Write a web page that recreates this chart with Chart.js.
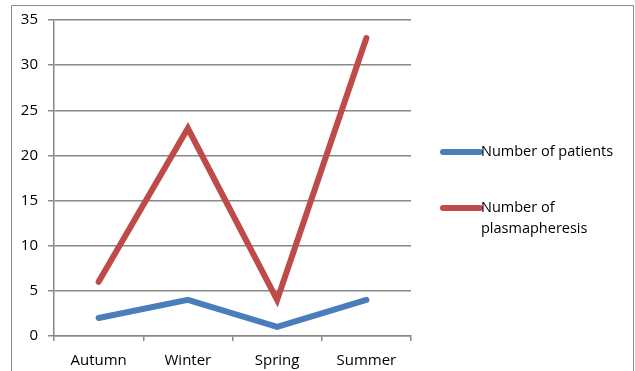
<!DOCTYPE html>
<html>
<head>
<meta charset="utf-8">
<style>
  html, body { margin: 0; padding: 0; background: #fff; }
  #wrap { width: 635px; height: 371px; position: relative; }
</style>
<script src="https://cdn.jsdelivr.net/npm/chart.js@4/dist/chart.umd.min.js"></script>
</head>
<body>
<div id="wrap"><canvas id="c" width="635" height="371"></canvas></div>
<script>
const seasons = ['Autumn', 'Winter', 'Spring', 'Summer'];
const patients = [2, 4, 1, 4];
const plasmapheresis = [6, 23, 4, 33];
const seriesNames = ['Number of patients', 'Number of plasmapheresis'];
const seriesColors = ['#4A7EBB', '#BE4B48'];

const FONT = '"Open Sans", "Liberation Sans", sans-serif';
const GRID = '#888888';

// Frame around the whole figure
const framePlugin = {
  id: 'frame',
  afterDraw(chart) {
    const ctx = chart.ctx;
    ctx.save();
    ctx.strokeStyle = '#8a8a8a';
    ctx.lineWidth = 1;
    ctx.beginPath();
    ctx.moveTo(11.5, 371);
    ctx.lineTo(11.5, 5.5);
    ctx.lineTo(633.5, 5.5);
    ctx.lineTo(633.5, 371);
    ctx.stroke();
    ctx.restore();
  }
};

// Legend on the right, with wrapped labels
const sideLegend = {
  id: 'sideLegend',
  afterDraw(chart) {
    const ctx = chart.ctx;
    const ys = [152, 208];
    const x0 = 443, x1 = 480;
    ctx.save();
    ctx.font = '14.5px ' + FONT;
    ctx.textBaseline = 'middle';
    ctx.textAlign = 'left';
    chart.data.datasets.forEach((ds, i) => {
      const y = ys[i];
      ctx.strokeStyle = ds.borderColor;
      ctx.lineWidth = 6;
      ctx.lineCap = 'round';
      ctx.beginPath();
      ctx.moveTo(x0, y);
      ctx.lineTo(x1, y);
      ctx.stroke();
      ctx.fillStyle = '#000';
      // wrap text to the available width
      const maxW = 145;
      const words = ds.label.split(' ');
      const lines = [];
      let cur = '';
      words.forEach(w => {
        const t = cur ? cur + ' ' + w : w;
        if (ctx.measureText(t).width > maxW && cur) { lines.push(cur); cur = w; }
        else cur = t;
      });
      if (cur) lines.push(cur);
      lines.forEach((ln, k) => ctx.fillText(ln, 481, y + k * 21));
    });
    ctx.restore();
  }
};

new Chart(document.getElementById('c'), {
  type: 'line',
  data: {
    labels: seasons,
    datasets: [
      { label: seriesNames[0], data: patients, borderColor: seriesColors[0], backgroundColor: seriesColors[0] },
      { label: seriesNames[1], data: plasmapheresis, borderColor: seriesColors[1], backgroundColor: seriesColors[1] }
    ]
  },
  options: {
    responsive: false,
    animation: false,
    devicePixelRatio: 1,
    layout: { padding: { left: 12, top: 20, right: 224, bottom: 0 } },
    elements: {
      line: { borderWidth: 6, tension: 0, borderCapStyle: 'round', borderJoinStyle: 'miter' },
      point: { radius: 0, hoverRadius: 0 }
    },
    plugins: {
      legend: { display: false },
      tooltip: { enabled: false }
    },
    scales: {
      x: {
        offset: true,
        grid: {
          offset: true,
          display: true,
          drawOnChartArea: false,
          drawTicks: true,
          tickLength: 5,
          color: GRID,
          lineWidth: 1.5
        },
        border: { display: true, color: GRID, width: 1.5 },
        ticks: { color: '#000', font: { family: FONT, size: 15 }, padding: 11, maxRotation: 0 },
        afterFit(scale) { scale.height = 35; }
      },
      y: {
        min: 0,
        max: 35,
        ticks: { stepSize: 5, color: '#000', font: { family: FONT, size: 15 }, padding: 10 },
        grid: { color: GRID, lineWidth: 1.5, tickLength: 6 },
        border: { display: true, color: GRID, width: 1.5 },
        afterFit(scale) { scale.width = 42; }
      }
    }
  },
  plugins: [framePlugin, sideLegend]
});
</script>
</body>
</html>
